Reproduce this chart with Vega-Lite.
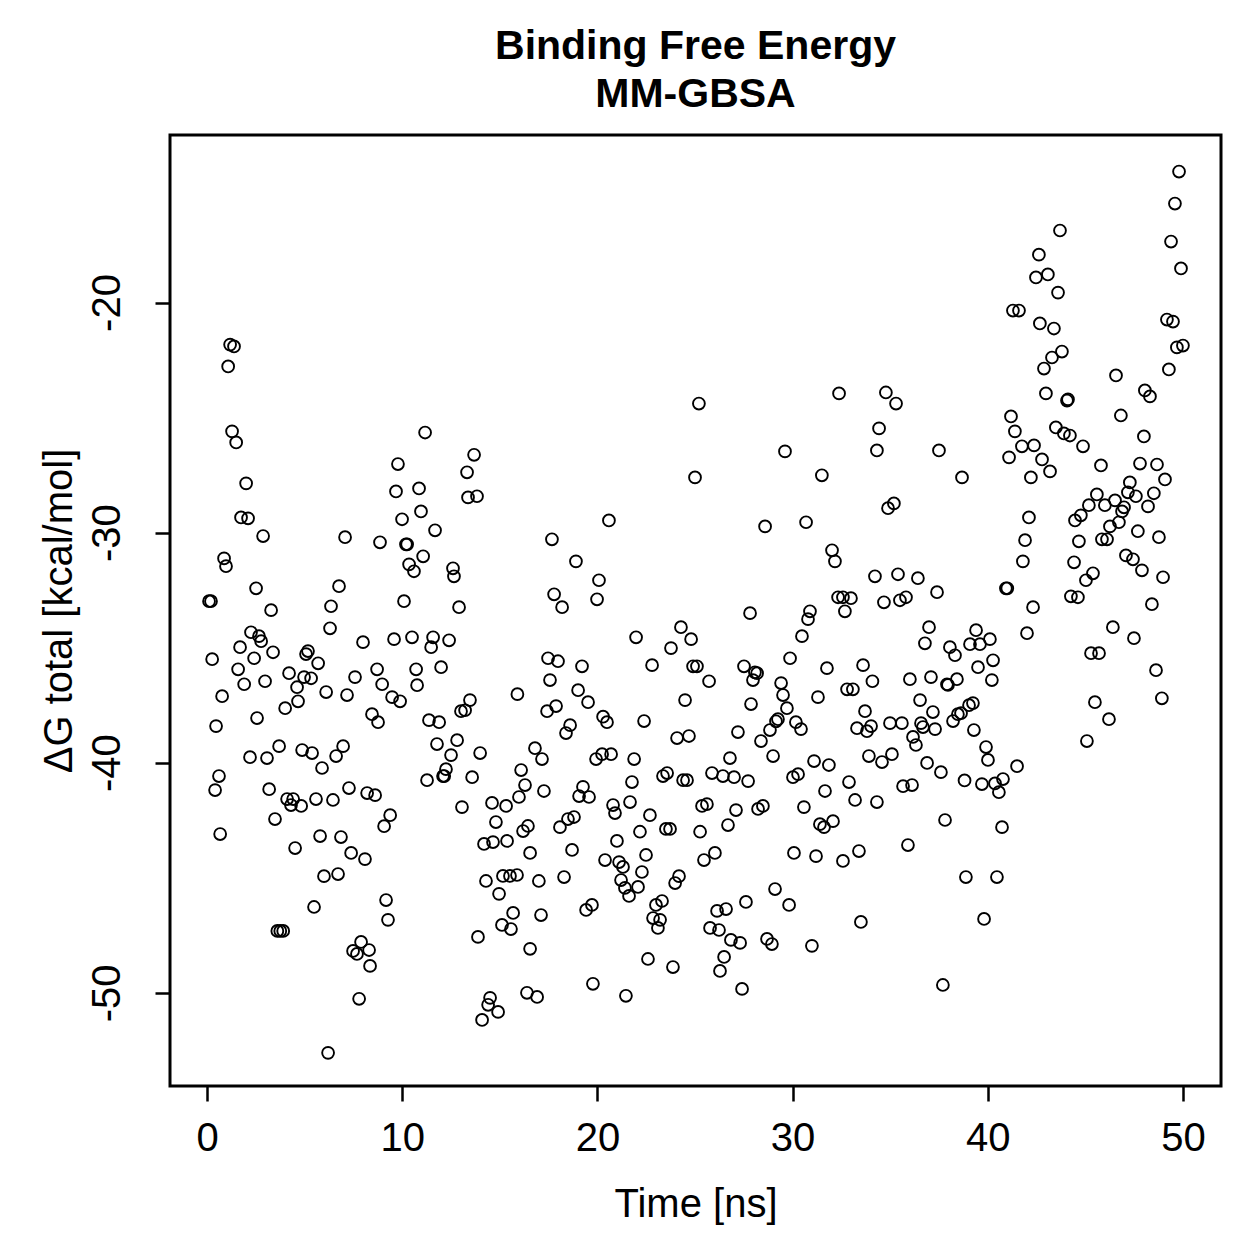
{
  "$schema": "https://vega.github.io/schema/vega-lite/v6.json",
  "width": 1051,
  "height": 951,
  "autosize": {"type": "none"},
  "padding": {"left": 170, "top": 135, "right": 38, "bottom": 173},
  "background": "white",
  "title": {
    "text": ["Binding Free Energy", "MM-GBSA"],
    "font": "Liberation Sans",
    "fontSize": 41,
    "fontWeight": "bold",
    "color": "black",
    "lineHeight": 48,
    "anchor": "middle",
    "frame": "group",
    "offset": 19
  },
  "config": {
    "view": {"stroke": "black", "strokeWidth": 3},
    "axis": {
      "grid": false,
      "domain": false,
      "ticks": true,
      "tickColor": "black",
      "tickWidth": 2.5,
      "tickSize": 15,
      "labelFont": "Liberation Sans",
      "labelFontSize": 40,
      "labelColor": "black",
      "titleFont": "Liberation Sans",
      "titleFontSize": 40,
      "titleFontWeight": "normal",
      "titleColor": "black"
    }
  },
  "data": {
    "values": [
      {"t":1.18,"g":-21.83},{"t":1.38,"g":-21.91},{"t":1.08,"g":-22.78},{"t":1.28,"g":-25.6},{"t":1.49,"g":-26.08},{"t":11.17,"g":-25.65},{"t":13.68,"g":-26.62},{"t":9.78,"g":-27.02},
      {"t":25.2,"g":-24.39},{"t":32.38,"g":-23.95},{"t":34.78,"g":-23.91},{"t":35.3,"g":-24.39},{"t":34.43,"g":-25.47},{"t":34.32,"g":-26.43},{"t":29.61,"g":-26.47},
      {"t":49.8,"g":-14.31},{"t":49.59,"g":-15.7},{"t":43.7,"g":-16.87},{"t":49.39,"g":-17.35},{"t":49.9,"g":-18.52},{"t":42.62,"g":-17.92},{"t":42.47,"g":-18.91},{"t":43.08,"g":-18.78},{"t":43.6,"g":-19.57},{"t":41.29,"g":-20.35},{"t":41.6,"g":-20.35},{"t":42.67,"g":-20.91},{"t":43.39,"g":-21.13},{"t":49.18,"g":-20.74},{"t":49.49,"g":-20.83},{"t":49.69,"g":-21.95},{"t":50.0,"g":-21.87},{"t":49.28,"g":-22.91},{"t":43.8,"g":-22.13},{"t":43.29,"g":-22.39},{"t":42.88,"g":-22.87},{"t":46.57,"g":-23.17},{"t":42.98,"g":-23.95},{"t":44.06,"g":-24.26},{"t":44.11,"g":-24.21},{"t":48.05,"g":-23.82},{"t":48.31,"g":-24.08},{"t":46.82,"g":-24.91},{"t":41.19,"g":-24.95},{"t":41.39,"g":-25.6},{"t":37.5,"g":-26.43},{"t":43.49,"g":-25.43},{"t":43.9,"g":-25.69},{"t":44.21,"g":-25.78},{"t":41.75,"g":-26.25},{"t":42.37,"g":-26.21},{"t":44.88,"g":-26.25},{"t":48.0,"g":-25.82},{"t":41.09,"g":-26.73},{"t":42.78,"g":-26.82},{"t":45.8,"g":-27.08},{"t":47.8,"g":-27.0},{"t":48.67,"g":-27.04},
      {"t":43.19,"g":-27.34},{"t":42.21,"g":-27.6},{"t":49.08,"g":-27.69},{"t":38.68,"g":-27.6},{"t":34.89,"g":-28.94},{"t":35.19,"g":-28.73},{"t":42.11,"g":-29.34},{"t":41.91,"g":-30.33},{"t":41.8,"g":-31.25},{"t":45.59,"g":-28.34},{"t":45.18,"g":-28.81},{"t":46.0,"g":-28.81},{"t":46.52,"g":-28.6},{"t":47.28,"g":-27.82},{"t":47.18,"g":-28.25},{"t":47.59,"g":-28.42},{"t":48.51,"g":-28.29},{"t":48.21,"g":-28.86},{"t":46.98,"g":-28.9},{"t":46.88,"g":-29.08},{"t":44.77,"g":-29.25},{"t":44.47,"g":-29.47},{"t":46.72,"g":-29.55},{"t":46.26,"g":-29.73},{"t":45.85,"g":-30.29},{"t":46.11,"g":-30.29},{"t":44.67,"g":-30.38},{"t":47.69,"g":-29.94},{"t":48.77,"g":-30.2},{"t":44.42,"g":-31.29},{"t":47.08,"g":-30.99},{"t":47.44,"g":-31.16},{"t":47.9,"g":-31.64},{"t":48.98,"g":-31.94},{"t":45.39,"g":-31.77},{"t":45.03,"g":-32.07},{"t":44.26,"g":-32.77},{"t":44.62,"g":-32.81},{"t":48.41,"g":-33.11},{"t":40.93,"g":-32.42},{"t":41.0,"g":-32.42},{"t":42.32,"g":-33.24},{"t":42.01,"g":-34.37},{"t":46.41,"g":-34.11},{"t":47.49,"g":-34.59},{"t":45.29,"g":-35.24},{"t":45.7,"g":-35.24},{"t":48.62,"g":-35.98},{"t":48.92,"g":-37.2},{"t":45.49,"g":-37.37},{"t":46.21,"g":-38.11},{"t":45.08,"g":-39.06},
      {"t":34.22,"g":-31.9},{"t":35.4,"g":-31.81},{"t":36.42,"g":-31.98},{"t":37.4,"g":-32.59},{"t":34.68,"g":-33.03},{"t":35.5,"g":-32.94},{"t":35.81,"g":-32.81},{"t":36.99,"g":-34.11},{"t":36.78,"g":-34.81},{"t":38.06,"g":-34.98},{"t":38.32,"g":-35.33},{"t":39.4,"g":-34.24},{"t":39.09,"g":-34.85},{"t":39.6,"g":-34.85},{"t":40.11,"g":-34.63},{"t":40.27,"g":-35.55},{"t":39.5,"g":-35.85},{"t":40.21,"g":-36.41},{"t":34.09,"g":-36.46},{"t":36.01,"g":-36.37},{"t":37.09,"g":-36.28},{"t":37.91,"g":-36.59},{"t":37.96,"g":-36.62},{"t":38.42,"g":-36.37},{"t":36.53,"g":-37.28},{"t":37.19,"g":-37.8},{"t":39.04,"g":-37.5},{"t":39.24,"g":-37.41},{"t":38.47,"g":-37.89},{"t":38.63,"g":-37.85},{"t":38.22,"g":-38.19},{"t":34.99,"g":-38.28},{"t":35.6,"g":-38.28},{"t":36.58,"g":-38.28},{"t":36.68,"g":-38.45},{"t":37.3,"g":-38.54},{"t":39.29,"g":-38.58},{"t":36.17,"g":-38.88},{"t":36.32,"g":-39.23},{"t":39.91,"g":-39.32},{"t":40.01,"g":-39.88},{"t":35.09,"g":-39.63},{"t":34.58,"g":-39.97},{"t":36.89,"g":-40.01},{"t":37.6,"g":-40.41},{"t":41.5,"g":-40.15},{"t":38.81,"g":-40.77},{"t":39.7,"g":-40.93},{"t":40.37,"g":-40.9},{"t":40.78,"g":-40.71},{"t":40.57,"g":-41.28},{"t":35.66,"g":-41.02},{"t":36.12,"g":-40.97},
      {"t":34.32,"g":-41.71},{"t":37.81,"g":-42.49},{"t":40.73,"g":-42.8},{"t":35.91,"g":-43.58},{"t":38.88,"g":-44.97},{"t":40.47,"g":-44.97},{"t":39.81,"g":-46.79},{"t":37.7,"g":-49.66},
      {"t":25.0,"g":-27.6},{"t":31.5,"g":-27.51},{"t":20.59,"g":-29.47},{"t":17.67,"g":-30.29},{"t":18.9,"g":-31.25},{"t":20.08,"g":-32.07},{"t":17.78,"g":-32.68},{"t":18.19,"g":-33.24},{"t":19.98,"g":-32.9},{"t":28.59,"g":-29.73},{"t":30.69,"g":-29.55},{"t":32.02,"g":-30.77},{"t":32.17,"g":-31.25},{"t":32.33,"g":-32.81},{"t":32.58,"g":-32.81},{"t":32.99,"g":-32.85},{"t":32.68,"g":-33.42},{"t":27.82,"g":-33.5},{"t":30.89,"g":-33.42},{"t":30.79,"g":-33.76},{"t":30.48,"g":-34.5},{"t":21.98,"g":-34.55},{"t":24.28,"g":-34.11},{"t":24.8,"g":-34.63},{"t":23.77,"g":-35.02},{"t":29.87,"g":-35.46},{"t":31.76,"g":-35.89},{"t":33.61,"g":-35.76},{"t":17.47,"g":-35.46},{"t":17.98,"g":-35.59},{"t":19.21,"g":-35.81},{"t":22.8,"g":-35.76},{"t":24.9,"g":-35.81},{"t":25.1,"g":-35.81},{"t":27.51,"g":-35.81},{"t":28.07,"g":-36.07},{"t":28.18,"g":-36.11},{"t":27.97,"g":-36.41},{"t":25.72,"g":-36.46},{"t":17.57,"g":-36.41},{"t":19.01,"g":-36.85},{"t":19.52,"g":-37.37},{"t":17.88,"g":-37.54},{"t":17.42,"g":-37.76},{"t":24.49,"g":-37.28},{"t":29.41,"g":-36.54},{"t":29.51,"g":-37.06},{"t":27.87,"g":-37.45},{"t":31.3,"g":-37.15},{"t":32.79,"g":-36.81},{"t":33.09,"g":-36.81},{"t":29.71,"g":-37.63},{"t":33.71,"g":-37.76},{"t":29.25,"g":-38.11},{"t":29.15,"g":-38.2},{"t":30.17,"g":-38.24},{"t":30.43,"g":-38.54},{"t":20.29,"g":-38.0},{"t":20.49,"g":-38.24},{"t":18.6,"g":-38.37},{"t":18.39,"g":-38.71},{"t":22.39,"g":-38.19},{"t":28.84,"g":-38.58},{"t":28.38,"g":-39.06},{"t":27.2,"g":-38.67},{"t":24.08,"g":-38.93},{"t":24.69,"g":-38.84},{"t":33.3,"g":-38.5},{"t":33.81,"g":-38.63},{"t":34.02,"g":-38.41},{"t":33.91,"g":-39.71},{"t":16.8,"g":-39.37},{"t":17.16,"g":-39.84},{"t":19.93,"g":-39.84},{"t":20.24,"g":-39.63},{"t":20.7,"g":-39.63},{"t":21.88,"g":-39.84},{"t":26.79,"g":-39.8},{"t":29.0,"g":-39.71},{"t":31.1,"g":-39.93},{"t":31.86,"g":-40.1},{"t":25.87,"g":-40.45},{"t":26.43,"g":-40.58},{"t":27.0,"g":-40.63},{"t":27.72,"g":-40.8},{"t":23.36,"g":-40.58},{"t":23.57,"g":-40.45},{"t":24.39,"g":-40.76},{"t":24.59,"g":-40.76},{"t":30.02,"g":-40.63},{"t":30.28,"g":-40.5},{"t":32.89,"g":-40.84},{"t":19.26,"g":-41.05},{"t":21.77,"g":-40.84},{"t":16.29,"g":-40.97},
      {"t":17.26,"g":-41.23},{"t":19.06,"g":-41.45},{"t":19.57,"g":-41.49},{"t":31.66,"g":-41.23},{"t":33.2,"g":-41.62},{"t":30.58,"g":-41.93},{"t":25.36,"g":-41.88},{"t":25.61,"g":-41.8},{"t":27.1,"g":-42.06},{"t":28.23,"g":-42.01},{"t":28.48,"g":-41.88},{"t":20.8,"g":-41.84},{"t":20.9,"g":-42.19},{"t":21.67,"g":-41.71},{"t":22.69,"g":-42.28},{"t":26.69,"g":-42.71},{"t":31.4,"g":-42.67},{"t":31.61,"g":-42.8},{"t":32.07,"g":-42.54},{"t":18.08,"g":-42.8},{"t":18.49,"g":-42.45},{"t":18.8,"g":-42.36},{"t":22.18,"g":-43.0},{"t":23.51,"g":-42.88},{"t":23.72,"g":-42.88},{"t":25.26,"g":-43.0},{"t":21.0,"g":-43.4},{"t":18.7,"g":-43.79},{"t":20.39,"g":-44.23},{"t":21.11,"g":-44.32},{"t":21.31,"g":-44.53},{"t":22.49,"g":-44.01},{"t":25.46,"g":-44.23},{"t":26.02,"g":-43.92},{"t":30.07,"g":-43.92},{"t":31.2,"g":-44.06},{"t":32.58,"g":-44.27},{"t":33.4,"g":-43.84},{"t":22.28,"g":-44.75},{"t":21.21,"g":-45.1},{"t":21.41,"g":-45.44},{"t":21.62,"g":-45.79},{"t":22.08,"g":-45.4},{"t":23.98,"g":-45.23},{"t":24.18,"g":-44.93},{"t":17.0,"g":-45.14},{"t":18.29,"g":-44.97},{"t":29.1,"g":-45.49},{"t":27.61,"g":-46.05},{"t":29.82,"g":-46.18},{"t":19.42,"g":-46.4},{"t":19.72,"g":-46.18},{"t":17.11,"g":-46.62},{"t":23.0,"g":-46.18},{"t":23.31,"g":-46.01},{"t":22.85,"g":-46.75},{"t":23.21,"g":-46.83},{"t":23.1,"g":-47.18},{"t":26.13,"g":-46.44},{"t":26.59,"g":-46.36},{"t":25.77,"g":-47.18},{"t":26.23,"g":-47.27},{"t":26.84,"g":-47.7},{"t":27.31,"g":-47.83},{"t":28.69,"g":-47.66},{"t":28.94,"g":-47.88},{"t":30.99,"g":-47.96},{"t":33.5,"g":-46.92},{"t":22.59,"g":-48.53},{"t":23.87,"g":-48.88},{"t":26.49,"g":-48.44},{"t":26.28,"g":-49.05},{"t":19.77,"g":-49.61},{"t":27.41,"g":-49.83},{"t":16.39,"g":-50.0},{"t":16.91,"g":-50.18},{"t":21.46,"g":-50.13},
      {"t":0.41,"g":-41.19},{"t":3.18,"g":-41.15},{"t":4.1,"g":-41.58},{"t":4.41,"g":-41.58},{"t":4.3,"g":-41.84},{"t":4.82,"g":-41.88},{"t":5.58,"g":-41.58},{"t":6.45,"g":-41.62},{"t":7.27,"g":-41.1},{"t":8.2,"g":-41.32},{"t":8.61,"g":-41.41},{"t":3.48,"g":-42.45},{"t":0.67,"g":-43.1},{"t":9.38,"g":-42.28},{"t":9.07,"g":-42.76},{"t":5.79,"g":-43.19},{"t":6.86,"g":-43.23},{"t":4.51,"g":-43.71},{"t":7.38,"g":-43.92},{"t":8.09,"g":-44.19},{"t":5.99,"g":-44.93},{"t":6.71,"g":-44.84},{"t":5.48,"g":-46.27},{"t":9.17,"g":-45.97},{"t":9.27,"g":-46.83},{"t":3.6,"g":-47.31},{"t":3.75,"g":-47.31},{"t":3.9,"g":-47.31},{"t":7.89,"g":-47.79},{"t":7.48,"g":-48.18},{"t":7.68,"g":-48.31},{"t":8.3,"g":-48.14},{"t":8.35,"g":-48.83},{"t":7.79,"g":-50.26},{"t":6.2,"g":-52.61},{"t":13.06,"g":-41.93},{"t":14.6,"g":-41.75},{"t":15.32,"g":-41.88},{"t":15.98,"g":-41.49},{"t":14.8,"g":-42.58},{"t":16.19,"g":-42.97},{"t":16.44,"g":-42.75},{"t":14.19,"g":-43.53},{"t":14.65,"g":-43.45},{"t":15.37,"g":-43.4},{"t":16.55,"g":-43.92},{"t":14.29,"g":-45.14},{"t":15.16,"g":-44.92},{"t":15.52,"g":-44.92},{"t":15.88,"g":-44.88},{"t":14.96,"g":-45.7},{"t":15.68,"g":-46.53},{"t":15.11,"g":-47.05},{"t":15.57,"g":-47.23},{"t":13.88,"g":-47.57},{"t":16.55,"g":-48.09},{"t":14.5,"g":-50.22},{"t":14.4,"g":-50.52},{"t":14.91,"g":-50.83},{"t":14.09,"g":-51.18},
      {"t":13.32,"g":-27.38},{"t":2.0,"g":-27.86},{"t":9.68,"g":-28.21},{"t":10.86,"g":-28.08},{"t":13.37,"g":-28.47},{"t":13.83,"g":-28.42},{"t":1.74,"g":-29.34},{"t":2.1,"g":-29.38},{"t":10.96,"g":-29.08},{"t":9.99,"g":-29.42},{"t":2.87,"g":-30.15},{"t":7.07,"g":-30.2},{"t":8.86,"g":-30.42},{"t":10.19,"g":-30.51},{"t":10.25,"g":-30.51},{"t":11.68,"g":-29.9},{"t":0.87,"g":-31.12},{"t":0.97,"g":-31.46},{"t":11.07,"g":-31.03},{"t":10.35,"g":-31.38},{"t":10.6,"g":-31.68},{"t":12.6,"g":-31.55},{"t":12.65,"g":-31.9},{"t":2.51,"g":-32.42},{"t":6.76,"g":-32.33},{"t":0.1,"g":-32.98},{"t":0.2,"g":-32.98},{"t":3.28,"g":-33.37},{"t":6.35,"g":-33.2},{"t":10.09,"g":-32.98},{"t":12.91,"g":-33.24},{"t":6.3,"g":-34.16},{"t":2.25,"g":-34.33},{"t":2.66,"g":-34.5},{"t":2.77,"g":-34.72},{"t":1.69,"g":-34.98},{"t":0.26,"g":-35.5},{"t":2.41,"g":-35.46},{"t":3.38,"g":-35.2},{"t":5.17,"g":-35.15},{"t":5.07,"g":-35.28},{"t":5.69,"g":-35.68},{"t":7.99,"g":-34.76},{"t":9.58,"g":-34.63},{"t":10.5,"g":-34.55},{"t":11.58,"g":-34.55},{"t":11.48,"g":-34.98},{"t":12.4,"g":-34.68},{"t":1.59,"g":-35.94},{"t":1.9,"g":-36.59},{"t":2.97,"g":-36.46},{"t":4.2,"g":-36.11},{"t":4.97,"g":-36.28},{"t":5.33,"g":-36.33},{"t":4.61,"g":-36.72},{"t":7.58,"g":-36.28},{"t":8.71,"g":-35.94},{"t":8.97,"g":-36.59},{"t":10.71,"g":-35.94},{"t":10.76,"g":-36.63},{"t":11.99,"g":-35.85},{"t":0.77,"g":-37.11},{"t":4.66,"g":-37.33},{"t":4.0,"g":-37.63},{"t":6.1,"g":-36.93},{"t":7.17,"g":-37.06},{"t":9.48,"g":-37.15},{"t":9.89,"g":-37.33},{"t":13.47,"g":-37.28},{"t":13.01,"g":-37.76},{"t":13.22,"g":-37.72},{"t":15.9,"g":-37.02},{"t":0.46,"g":-38.41},{"t":2.56,"g":-38.06},{"t":8.45,"g":-37.89},{"t":8.76,"g":-38.24},{"t":11.37,"g":-38.15},{"t":11.89,"g":-38.24},{"t":3.69,"g":-39.28},{"t":2.2,"g":-39.76},{"t":3.07,"g":-39.8},{"t":4.87,"g":-39.45},{"t":5.38,"g":-39.58},{"t":6.61,"g":-39.71},{"t":6.97,"g":-39.28},{"t":5.89,"g":-40.23},{"t":11.78,"g":-39.19},{"t":12.81,"g":-39.02},{"t":12.5,"g":-39.67},{"t":13.99,"g":-39.58},{"t":0.61,"g":-40.58},{"t":12.24,"g":-40.28},{"t":12.09,"g":-40.58},{"t":12.15,"g":-40.58},{"t":11.27,"g":-40.76},{"t":13.58,"g":-40.63},{"t":16.09,"g":-40.32}
    ]
  },
  "mark": {"type": "point", "shape": "circle", "filled": false, "color": "black", "strokeWidth": 1.9, "size": 140, "opacity": 1},
  "encoding": {
    "x": {
      "field": "t", "type": "quantitative",
      "scale": {"domain": [-1.9, 51.95], "nice": false, "zero": false},
      "axis": {"values": [0, 10, 20, 30, 40, 50], "title": "Time [ns]", "labelPadding": 17, "titlePadding": 26, "labelFlush": false, "labelExpr": "'' + datum.value"}
    },
    "y": {
      "field": "g", "type": "quantitative",
      "scale": {"domain": [-54.05, -12.72], "nice": false, "zero": false},
      "axis": {"values": [-50, -40, -30, -20], "title": "ΔG total [kcal/mol]", "labelAngle": 270, "labelAlign": "center", "labelBaseline": "bottom", "labelPadding": 28, "titlePadding": 8, "labelFlush": false, "labelExpr": "'' + datum.value"}
    }
  }
}
